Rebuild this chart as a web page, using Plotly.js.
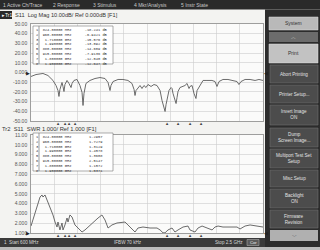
<!DOCTYPE html>
<html><head><meta charset="utf-8">
<script src="https://cdn.plot.ly/plotly-3.0.1.min.js"></script>
<style>html,body{margin:0;padding:0;background:#f2f2f0;}#chart{width:320px;height:250px;}</style>
</head><body><div id="chart"></div>
<script>
// ---- data ----
const s11Freq = [600,641,698,739,780,805,821,829,837,854,862,870,878,895,911,928,936,952,977,1001,1018,1026,1034,1050,1083,1124,1165,1206,1231,1247,1255,1272,1313,1353,1394,1427,1444,1452,1460,1476,1493,1509,1525,1542,1558,1583,1607,1632,1657,1673,1689,1698,1706,1714,1730,1747,1755,1763,1779,1788,1796,1804,1820,1837,1861,1878,1894,1902,1919,1935,1951,1960,1984,2009,2041,2082,2107,2123,2140,2172,2213,2254,2287,2303,2320,2353,2394,2435,2467,2500];
const s11dB = [-4.1,-2.1,-1.0,-3.1,-8.2,-13.4,-18.6,-24.7,-17.5,-10.3,-14.4,-19.6,-12.4,-8.2,-11.3,-15.5,-11.3,-8.2,-7.2,-13.4,-20.6,-34,-21.6,-11.3,-8.2,-6.2,-5.2,-6.2,-10.3,-18.6,-13.4,-9.3,-7.2,-7.2,-8.2,-11.3,-17.5,-23.7,-18.6,-15.5,-13.4,-16.5,-13.4,-15.5,-12.4,-14.4,-12.4,-13.4,-18.6,-28.9,-37.1,-40.2,-33,-26.8,-18.6,-15.5,-16.5,-21.6,-27.8,-32,-25.8,-19.6,-15.5,-14.4,-13.4,-11.3,-16.5,-14.4,-13.4,-21.6,-26.8,-18.6,-13.4,-8.2,-8.2,-8.2,-9.3,-14.4,-9.3,-7.2,-7.2,-8.2,-9.3,-12.4,-9.3,-7.2,-7.2,-8.2,-7.2,-8.2];
const swrFreq = [600,616,633,649,657,674,690,698,715,731,756,780,797,813,821,837,854,862,878,895,903,919,936,944,960,985,1018,1042,1067,1108,1149,1181,1206,1231,1263,1304,1345,1370,1394,1427,1452,1476,1517,1575,1632,1657,1681,1698,1722,1755,1779,1804,1845,1886,1902,1943,1968,2001,2042,2083,2107,2132,2172,2230,2287,2312,2353,2394,2451,2500];
const swrVal = [1.71,2.33,3.04,3.76,4.16,4.67,4.88,4.67,4.88,4.37,3.65,2.84,2.12,1.61,2.12,1.31,2.02,1.31,1.82,2.53,2.12,2.84,2.63,2.33,1.82,1.51,1.10,1.31,1.61,2.02,2.53,2.84,2.33,1.51,1.82,2.02,2.12,2.12,1.82,1.41,1.10,1.51,1.61,1.51,1.51,1.31,1.02,1.02,1.31,1.51,1.10,1.31,1.61,1.71,1.31,1.10,1.51,1.71,1.51,1.31,1.61,1.71,1.61,1.61,1.61,1.41,1.71,1.82,1.71,1.61];
const markerFreq = [824,960,1710,1990,880,915,1800,1900];
const markerDb = [-18.241,-6.9421,-15.576,-13.092,-14.609,-7.9136,-12.040,-12.647];
const markerSwr = [1.2957,1.7279,1.3129,1.4578,1.3608,2.5147,1.1572,1.0371];
const dbTicks = [50,40,30,20,10,0,-10,-20,-30,-40,-50];
const dbTickText = ["50.00","40.00","30.00","20.00","10.00","0.000","-10.00","-20.00","-30.00","-40.00","-50.00"];
const swrTicks = [11,10,9,8,7,6,5,4,3,2,1];
const swrTickText = ["11.00","10.00","9.000","8.000","7.000","6.000","5.000","4.000","3.000","2.000","1.000"];
const menuItems = ["1 Active Ch/Trace","2 Response","3 Stimulus","4 Mkr/Analysis","5 Instr State"];
const softkeys = ["System","Print","Abort Printing","Printer Setup...","Invert Image<br>ON","Dump<br>Screen Image...","Multiport Test Set<br>Setup","Misc Setup","Backlight<br>ON","Firmware<br>Revision"];
const header1 = "S11  Log Mag 10.00dB/ Ref 0.000dB [F1]";
const header2 = "Tr2  S11  SWR 1.000/ Ref 1.000 [F1]";
const startText = "1  Start 600 MHz", ifbwText = "IFBW 70 kHz", stopText = "Stop 2.5 GHz";

// ---- layout helpers ----
const W=320,H=250;
const px=x=>x/W, py=y=>1-y/H;
const FONT="Liberation Sans, Arial, sans-serif";
const MONO="Liberation Mono, DejaVu Sans Mono, monospace";
const NB='\u00a0';
const shapes=[], anns=[];
function rect(x0,y0,x1,y1,fill,line,lw){shapes.push({type:'rect',xref:'paper',yref:'paper',x0:px(x0),x1:px(x1),y0:py(y1),y1:py(y0),fillcolor:fill,line:{color:line||fill,width:lw||0},layer:'above'});}
function txt(x,y,t,size,color,anchor,fam,yanchor){anns.push({xref:'paper',yref:'paper',x:px(x),y:py(y),text:t,showarrow:false,xanchor:anchor||'left',yanchor:yanchor||'middle',font:{size:size,color:color,family:fam||FONT},align:anchor==='left'||!anchor?'left':'center',borderpad:0});}
const pad=(s,n)=>NB.repeat(Math.max(0,n-s.length))+s;

// top menu bar
rect(0,0,320,9.5,'#2a2a2a');
const menuX=[2,52,92,133,180];
menuItems.forEach((m,i)=>txt(menuX[i],4.8,m,5,'#c8c8c8'));
// right softkey panel
rect(265,9.5,320,250,'#2c2c2c');
rect(269,17,318,30,'#b9b9b9','#dddddd',0.5); txt(293.5,23.5,softkeys[0],5,'#333','center');
rect(269,32,318,42,'#6c6c6c'); txt(293.5,37,'︿',5,'#ddd','center');
rect(269,44,318,63,'#c2c2c2','#e0e0e0',0.5); txt(293.5,53.5,softkeys[1],5,'#333','center');
const keyY=[[65,83],[85,103],[105,125],[128,147],[149,168],[170,187],[189,208],[210,228]];
keyY.forEach((k,i)=>{rect(270,k[0],318,k[1],'#4c4c4c','#6e6e6e',0.6);txt(294,(k[0]+k[1])/2,softkeys[i+2],4.6,'#e2e2e2','center');});
rect(270,230,318,241,'#b0b0b0'); txt(294,235.5,'﹀',5,'#444','center');
// header rows
rect(0,11,12,19,'#2a2a2a'); txt(0.5,15,'▸Tr1',5,'#fff');
txt(14,15,header1,5.6,'#333');
txt(1,129,header2,5.8,'#333');
// marker tables (one block annotation per table, monospace rows)
function table(yTop,lines){
  rect(33,yTop,113,yTop+38,'#ffffff','#777',0.6);
  rect(39,yTop,39,yTop+38,'#777','#777',0.4);
  txt(35,yTop+0.8,lines.join('<br>'),3.7,'#333','left',MONO,'top');
}
const fstr=f=>f<1000?[f.toFixed(5),'MHz']:[(f/1000).toFixed(6),'GHz'];
table(26,markerFreq.map((f,i)=>{const [a,u]=fstr(f);const v=markerDb[i].toFixed(markerDb[i]<=-10?3:4);return String(i+1)+NB+NB+pad(a,9)+NB+u+NB.repeat(5)+pad(v,8)+NB+'dB';}));
table(133,markerFreq.map((f,i)=>{const [a,u]=fstr(f);return String(i+1)+NB+NB+pad(a,9)+NB+u+NB.repeat(8)+markerSwr[i].toFixed(4);}));
// marker triangles under plots
markerFreq.forEach(f=>{
  anns.push({xref:'x',yref:'paper',x:f,y:py(123.5),text:'▲',showarrow:false,font:{size:4.2,color:'#444'},xanchor:'center',yanchor:'middle',borderpad:0});
  anns.push({xref:'x2',yref:'paper',x:f,y:py(235.5),text:'▲',showarrow:false,font:{size:4.2,color:'#444'},xanchor:'center',yanchor:'middle',borderpad:0});
});
// reference pointers
[['y',0],['y2',1]].forEach(([ax,v])=>{
  anns.push({xref:'paper',yref:ax,x:px(31),y:v,text:'▶',showarrow:false,xanchor:'right',yanchor:'middle',font:{size:5,color:'#222'},borderpad:0});
  anns.push({xref:'paper',yref:ax,x:px(263),y:v,text:'◀',showarrow:false,xanchor:'left',yanchor:'middle',font:{size:5,color:'#222'},borderpad:0});
});
// status bar
rect(0,238,265,247,'#3a3a3a');
rect(0,247,320,250,'#bcbcbc');
txt(3,242.5,startText,4.6,'#d8d8d8');
txt(128,242.5,ifbwText,4.6,'#d8d8d8','center');
txt(244,242.5,stopText,4.6,'#d8d8d8','right');
rect(247,239.5,259,245.5,'#5a5a5a','#bbb',0.5); txt(253,242.5,'Cor',4.2,'#eee','center');

const xa={domain:[px(31),px(263)],range:[600,2500],tick0:600,dtick:190,showticklabels:false,showgrid:true,gridcolor:'#cdcdcd',gridwidth:0.6,showline:true,mirror:true,linecolor:'#888',linewidth:0.8,zeroline:false,ticks:''};
const ya={showgrid:true,gridcolor:'#cdcdcd',gridwidth:0.6,showline:true,mirror:true,linecolor:'#888',linewidth:0.8,zeroline:false,ticks:'',tickfont:{size:5,color:'#555',family:FONT},ticklabelstandoff:2};
const layout={width:W,height:H,margin:{l:0,r:0,t:0,b:0},paper_bgcolor:'#f3f3f1',plot_bgcolor:'#fbfbfa',showlegend:false,
 xaxis:Object.assign({},xa,{anchor:'y'}),
 yaxis:Object.assign({},ya,{domain:[py(121),py(24)],range:[-50,50],tickvals:dbTicks,ticktext:dbTickText,anchor:'x'}),
 xaxis2:Object.assign({},xa,{anchor:'y2'}),
 yaxis2:Object.assign({},ya,{domain:[py(233),py(135)],range:[1,11],tickvals:swrTicks,ticktext:swrTickText,anchor:'x2'}),
 shapes:shapes,annotations:anns};
const data=[
 {x:s11Freq,y:s11dB,type:'scatter',mode:'lines',line:{color:'#5a5a5a',width:0.9},xaxis:'x',yaxis:'y',hoverinfo:'skip'},
 {x:swrFreq,y:swrVal,type:'scatter',mode:'lines',line:{color:'#5a5a5a',width:0.9},xaxis:'x2',yaxis:'y2',hoverinfo:'skip'}
];
Plotly.newPlot('chart',data,layout,{staticPlot:true,displayModeBar:false});
</script></body></html>
